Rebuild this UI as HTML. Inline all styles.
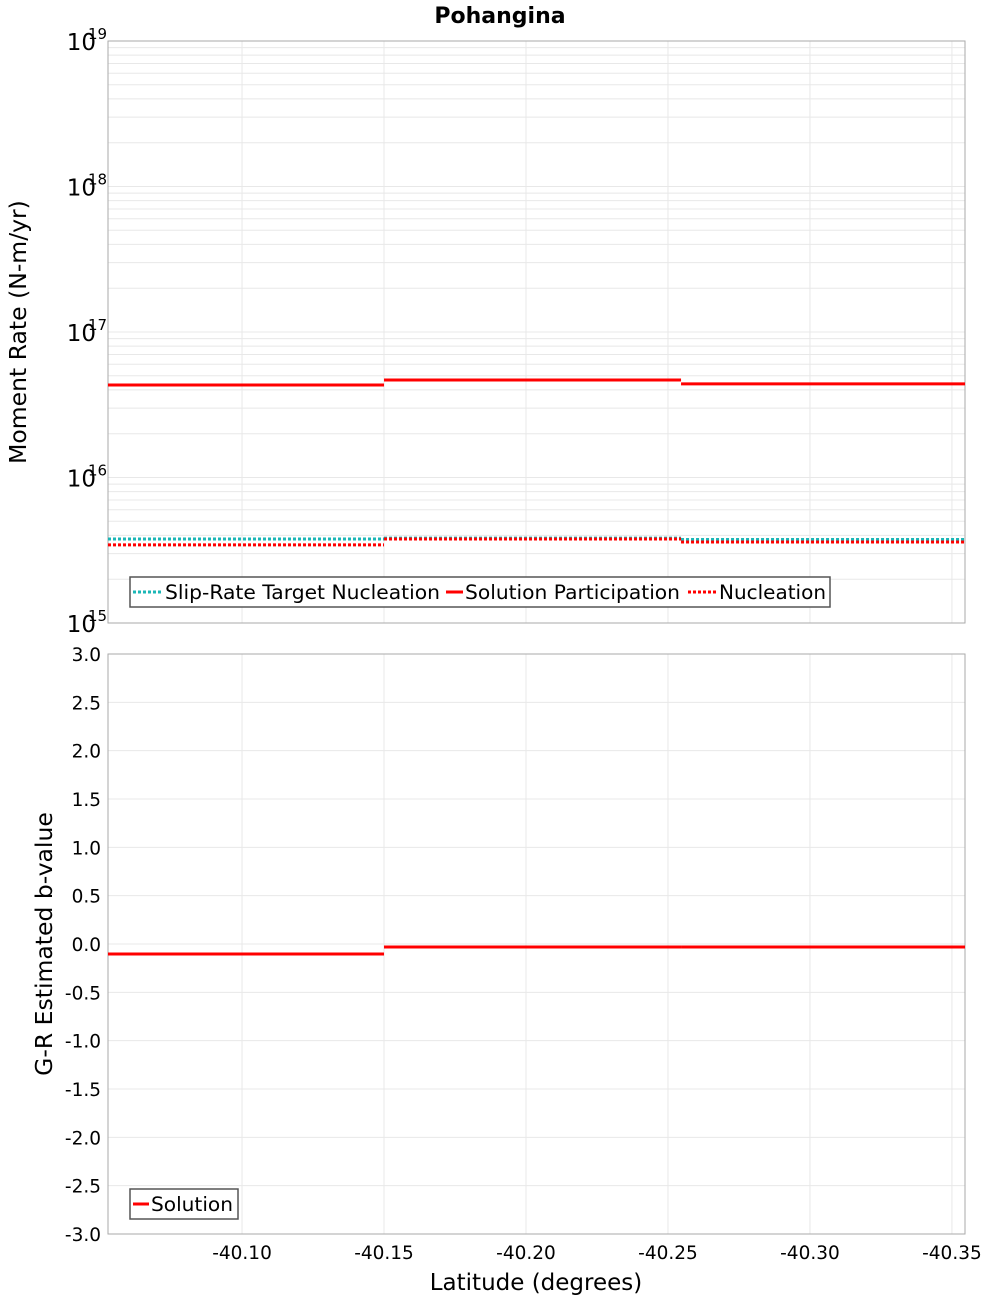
<!DOCTYPE html>
<html><head><meta charset="utf-8"><style>
body{margin:0;background:#fff;}
svg{display:block;font-family:"DejaVu Sans","Liberation Sans",sans-serif;}
</style></head><body>
<svg id="chart" width="1000" height="1300" xmlns="http://www.w3.org/2000/svg"></svg>
<script>
const segBounds = [-40.0528, -40.15, -40.2546, -40.3546];
const targetNucleation = [3.78e15, 3.83e15, 3.75e15];
const solutionParticipation = [4.32e16, 4.68e16, 4.4e16];
const nucleation = [3.44e15, 3.78e15, 3.6e15];
const bValues = [-0.103, -0.031, -0.031];
const xTicks = [-40.10, -40.15, -40.20, -40.25, -40.30, -40.35];
const logExps = [15, 16, 17, 18, 19];
const bTicks = [3.0, 2.5, 2.0, 1.5, 1.0, 0.5, 0.0, -0.5, -1.0, -1.5, -2.0, -2.5, -3.0];

const svg = document.getElementById('chart');
const NS = 'http://www.w3.org/2000/svg';
function mk(tag, attrs, parent, text){
  const e = document.createElementNS(NS, tag);
  for (const k in attrs) e.setAttribute(k, attrs[k]);
  if (text !== undefined) e.textContent = text;
  (parent || svg).appendChild(e);
  return e;
}
const L = 108, R = 965, T1 = 41, B1 = 623, T2 = 654, B2 = 1234;
const xS = v => L + (v - segBounds[0]) / (segBounds[3] - segBounds[0]) * (R - L);
const yLog = v => B1 - (Math.log10(v) - 15) / 4 * (B1 - T1);
const yB = v => B2 - (v + 3) / 6 * (B2 - T2);

const title = mk('text', {x: 500, y: 23, 'text-anchor': 'middle', 'font-size': 22, 'font-weight': 'bold'}, svg, 'Pohangina');



const g1 = mk('g', {});


for (let e = 15; e < 19; e++) for (let m = 1; m < 10; m++) {
  const y = yLog(m * Math.pow(10, e));
  mk('line', {x1: L, x2: R, y1: y, y2: y, stroke: '#e8e8e8', 'stroke-width': 1}, g1);
}
const g2 = mk('g', {});


bTicks.forEach(v => { const y = yB(v); mk('line', {x1: L, x2: R, y1: y, y2: y, stroke: '#e8e8e8'}, g2); });
xTicks.forEach(v => {
  const x = xS(v);
  mk('line', {x1: x, x2: x, y1: T1, y2: B1, stroke: '#e8e8e8'}, g1);
  mk('line', {x1: x, x2: x, y1: T2, y2: B2, stroke: '#e8e8e8'}, g2);
});

const f1 = mk('rect', {x: L, y: T1, width: R - L, height: B1 - T1, fill: 'none', stroke: '#aaa'});


const f2 = mk('rect', {x: L, y: T2, width: R - L, height: B2 - T2, fill: 'none', stroke: '#aaa'});



logExps.forEach(e => {
  const y = yLog(Math.pow(10, e));
  const t = mk('text', {x: 96, y: y + 9, 'text-anchor': 'end', 'font-size': 23}, svg, '10');
  
  
  const s = mk('text', {x: 88, y: y - 2, 'font-size': 15}, svg, String(e));
  
  
});
bTicks.forEach(v => {
  const t = mk('text', {x: 101, y: yB(v) + 7, 'text-anchor': 'end', 'font-size': 18.5}, svg, v.toFixed(1));
  
  
});
xTicks.forEach(v => {
  const t = mk('text', {x: xS(v), y: 1259, 'text-anchor': 'middle', 'font-size': 18.5}, svg, v.toFixed(2));
  
  
});

const yt1 = mk('text', {x: 0, y: 0, 'text-anchor': 'middle', 'font-size': 23.5, transform: 'translate(26,332) rotate(-90)'}, svg, 'Moment Rate (N-m/yr)');


const yt2 = mk('text', {x: 0, y: 0, 'text-anchor': 'middle', 'font-size': 23.5, transform: 'translate(52,944) rotate(-90)'}, svg, 'G-R Estimated b-value');


const xt = mk('text', {x: 536, y: 1290, 'text-anchor': 'middle', 'font-size': 23}, svg, 'Latitude (degrees)');



function drawSteps(vals, yf, color, dash, name){
  const g = mk('g', {});
  
  
  vals.forEach((v, i) => {
    const y = yf(v);
    const ln = mk('line', {x1: xS(segBounds[i]), x2: xS(segBounds[i + 1]), y1: y, y2: y, stroke: color, 'stroke-width': 3}, g);
    if (dash) ln.setAttribute('stroke-dasharray', dash);
    
    
  });
}
drawSteps(targetNucleation, yLog, '#1bb6b6', '3,2', 'slip-rate-target-nucleation');
drawSteps(solutionParticipation, yLog, '#ff0000', null, 'solution-participation');
drawSteps(nucleation, yLog, '#ff0000', '3,2', 'nucleation');
drawSteps(bValues, yB, '#ff0000', null, 'solution-b-value');

const lg1 = mk('g', {});


mk('rect', {x: 130, y: 577, width: 700, height: 30, fill: '#fff', stroke: '#555', 'stroke-width': 1.5}, lg1);
mk('line', {x1: 133, x2: 161, y1: 592, y2: 592, stroke: '#1bb6b6', 'stroke-width': 3, 'stroke-dasharray': '3,2'}, lg1);
mk('text', {x: 165, y: 599, 'font-size': 19.5, textLength: 275, lengthAdjust: 'spacingAndGlyphs'}, lg1, 'Slip-Rate Target Nucleation');
mk('line', {x1: 446, x2: 463, y1: 592, y2: 592, stroke: '#ff0000', 'stroke-width': 3}, lg1);
mk('text', {x: 465, y: 599, 'font-size': 19.5, textLength: 215, lengthAdjust: 'spacingAndGlyphs'}, lg1, 'Solution Participation');
mk('line', {x1: 688, x2: 716, y1: 592, y2: 592, stroke: '#ff0000', 'stroke-width': 3, 'stroke-dasharray': '3,2'}, lg1);
mk('text', {x: 719, y: 599, 'font-size': 19.5, textLength: 107, lengthAdjust: 'spacingAndGlyphs'}, lg1, 'Nucleation');

const lg2 = mk('g', {});


mk('rect', {x: 130, y: 1189, width: 108, height: 30, fill: '#fff', stroke: '#555', 'stroke-width': 1.5}, lg2);
mk('line', {x1: 133, x2: 149, y1: 1204, y2: 1204, stroke: '#ff0000', 'stroke-width': 3}, lg2);
mk('text', {x: 151, y: 1211, 'font-size': 19.5, textLength: 82, lengthAdjust: 'spacingAndGlyphs'}, lg2, 'Solution');
</script>
</body></html>
